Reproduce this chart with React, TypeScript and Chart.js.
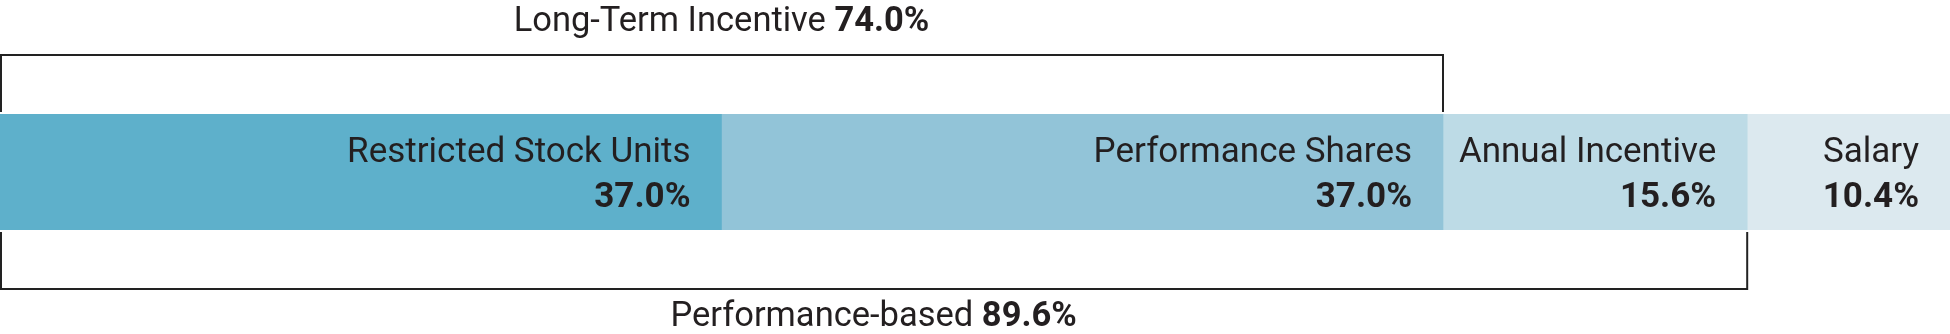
import React, { useEffect, useRef } from "react";
import { Chart, registerables } from "chart.js";

Chart.register(...registerables);

const categories = ["Target Pay Mix"];
const segmentLabels = ["Restricted Stock Units", "Performance Shares", "Annual Incentive", "Salary"];
const segmentValues = [37.0, 37.0, 15.6, 10.4];
const segmentColors = ["#5eb0cb", "#92c4d8", "#bddbe6", "#dce9ef"];
const bracketLabels = ["Long-Term Incentive", "Performance-based"];
const bracketValues = [74.0, 89.6];

const W = 1950;
const H = 334;
const FONT = "Roboto, 'Liberation Sans', Arial, sans-serif";
const FS = 35;
const FSB = 34.5;
const TEXT = "#231f20";

const fmt = (v: number) => v.toFixed(1) + "%";

const overlayPlugin = {
  id: "overlay",
  beforeDatasetsDraw(chart: any) {
    const ctx = chart.ctx;
    const x = chart.scales.x;
    const area = chart.chartArea;
    ctx.save();
    ctx.strokeStyle = "#222222";
    ctx.lineWidth = 2;
    ctx.lineJoin = "miter";
    const xt = x.getPixelForValue(bracketValues[0]);
    const x0 = x.getPixelForValue(0) + 1;
    ctx.beginPath();
    ctx.moveTo(x0, area.top - 2);
    ctx.lineTo(x0, 55);
    ctx.lineTo(xt, 55);
    ctx.lineTo(xt, area.top - 2);
    ctx.stroke();
    const xb = x.getPixelForValue(bracketValues[1]);
    ctx.beginPath();
    ctx.moveTo(x0, area.bottom + 2);
    ctx.lineTo(x0, 289);
    ctx.lineTo(xb, 289);
    ctx.lineTo(xb, area.bottom + 2);
    ctx.stroke();
    ctx.restore();
  },
  afterDatasetsDraw(chart: any) {
    const ctx = chart.ctx;
    const x = chart.scales.x;
    ctx.save();
    ctx.fillStyle = TEXT;
    ctx.textBaseline = "alphabetic";
    let cum = 0;
    segmentValues.forEach((v, i) => {
      cum += v;
      const xr = x.getPixelForValue(cum) - 31;
      ctx.textAlign = "right";
      ctx.font = `400 ${FS}px ${FONT}`;
      ctx.fillText(segmentLabels[i], xr, 162);
      ctx.font = `700 ${FS}px ${FONT}`;
      ctx.fillText(fmt(v), xr, 207);
    });
    const drawBracketLabel = (label: string, value: number, y: number) => {
      const cx = (x.getPixelForValue(0) + x.getPixelForValue(value)) / 2;
      ctx.font = `400 ${FSB}px ${FONT}`;
      const a = label + " ";
      const wa = ctx.measureText(a).width;
      ctx.font = `700 ${FSB}px ${FONT}`;
      const b = fmt(value);
      const wb = ctx.measureText(b).width;
      const start = cx - (wa + wb) / 2;
      ctx.textAlign = "left";
      ctx.font = `400 ${FSB}px ${FONT}`;
      ctx.fillText(a, start, y);
      ctx.font = `700 ${FSB}px ${FONT}`;
      ctx.fillText(b, start + wa, y);
    };
    drawBracketLabel(bracketLabels[0], bracketValues[0], 31);
    drawBracketLabel(bracketLabels[1], bracketValues[1], 326);
    ctx.restore();
  },
};

export default function App() {
  const ref = useRef<HTMLCanvasElement>(null);
  useEffect(() => {
    if (!ref.current) return;
    const chart = new Chart(ref.current, {
      type: "bar",
      data: {
        labels: categories,
        datasets: segmentLabels.map((label, i) => ({
          label,
          data: [segmentValues[i]],
          backgroundColor: segmentColors[i],
          borderWidth: 0,
          barPercentage: 1,
          categoryPercentage: 1,
        })),
      },
      options: {
        indexAxis: "y",
        responsive: false,
        animation: false,
        devicePixelRatio: 1,
        layout: { padding: { top: 114, bottom: 104, left: 0, right: 0 } },
        plugins: {
          legend: { display: false },
          tooltip: { enabled: false },
          title: { display: false },
        },
        scales: {
          x: { stacked: true, min: 0, max: 100, display: false },
          y: { stacked: true, display: false },
        },
      },
      plugins: [overlayPlugin],
    });
    return () => chart.destroy();
  }, []);
  return (
    <div style={{ position: "fixed", left: 0, top: 0, width: W, height: H, background: "#ffffff" }}>
      <canvas ref={ref} width={W} height={H} style={{ display: "block", width: W, height: H }} />
    </div>
  );
}
